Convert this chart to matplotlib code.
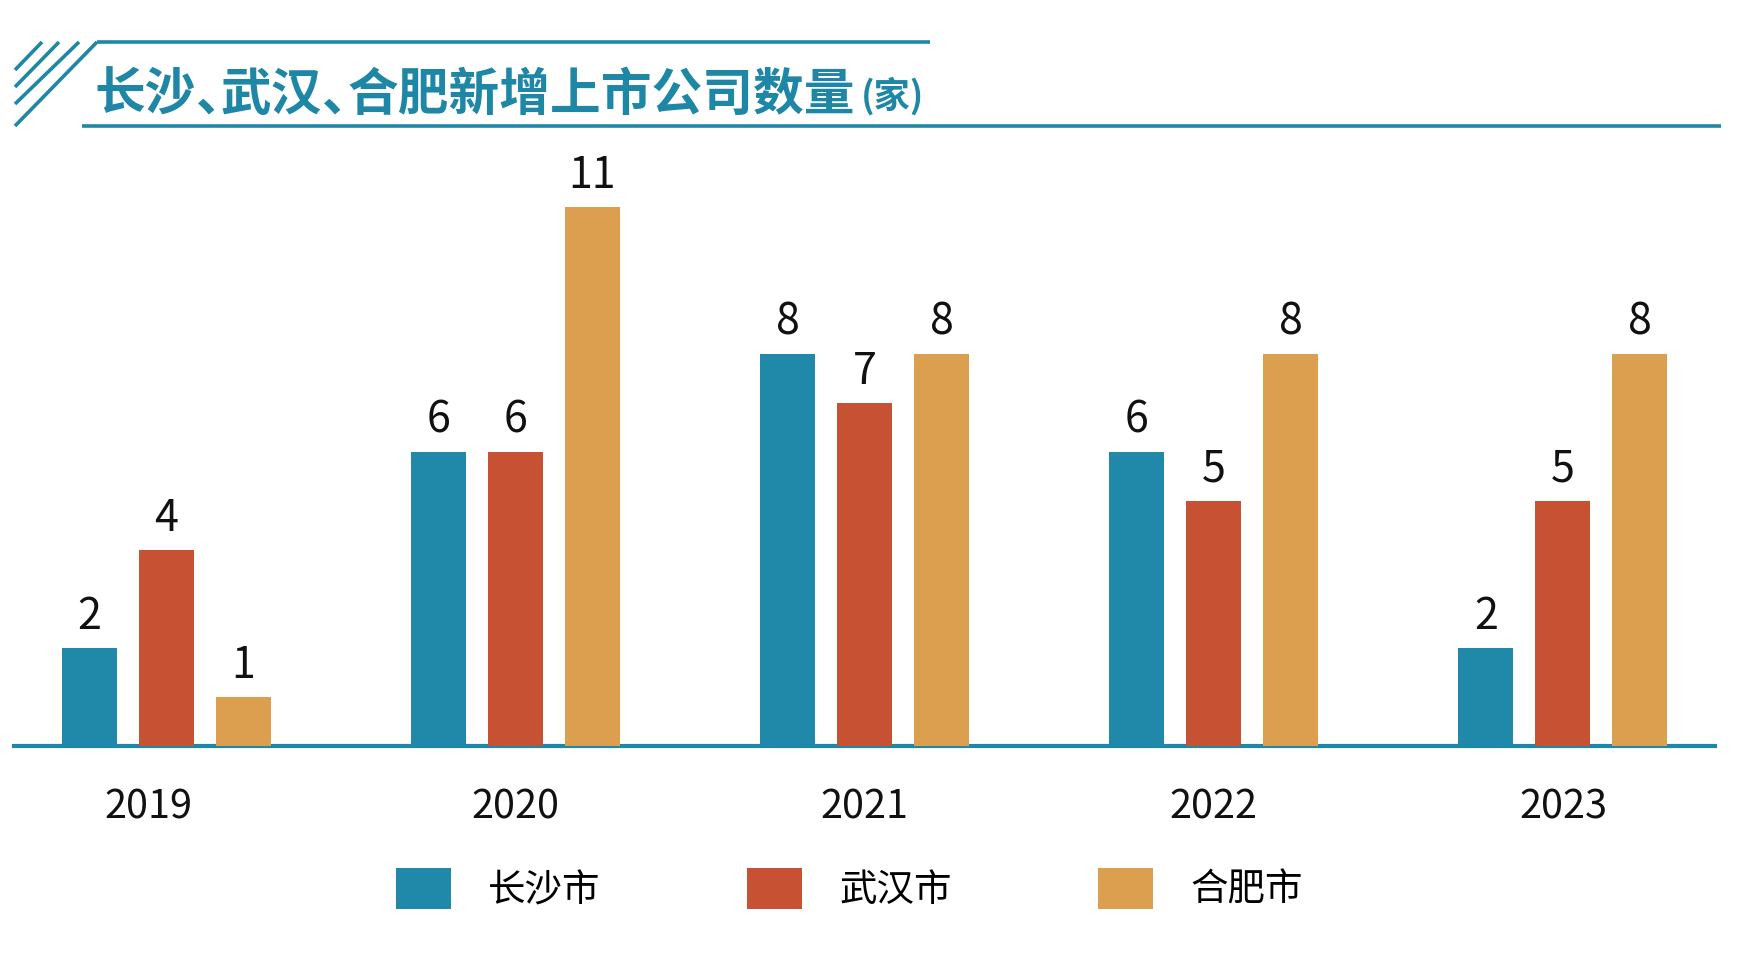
import matplotlib
matplotlib.use("Agg")
import matplotlib.pyplot as plt
from matplotlib.lines import Line2D
from matplotlib.patches import Patch
import numpy as np

plt.rcParams['font.family'] = ['Noto Sans CJK SC', 'DejaVu Sans']

# 数据
years = ["2019", "2020", "2021", "2022", "2023"]
changsha = [2, 6, 8, 6, 2]
wuhan = [4, 6, 7, 5, 5]
hefei = [1, 11, 8, 8, 8]
cities = ["长沙市", "武汉市", "合肥市"]
title_parts = ["长沙", "、", "武汉", "、", "合肥新增上市公司数量"]
unit = "(家)"

TEAL = "#1f87a6"
colors = ["#2088a8", "#c65133", "#dc9f50"]

W, H = 1756, 960
fig = plt.figure(figsize=(W / 100, H / 100), dpi=100)


def px(x, y):
    # pixels (origine en haut à gauche) -> fraction de figure
    return x / W, 1 - y / H


# axe principal : ligne de base à y=746 px, 49 px par unité
ax = fig.add_axes([14 / W, 1 - 746 / H, (1715 - 14) / W, 588 / H])
x = np.arange(len(years))
step = 349.0
bw = 55 / step
off = 77 / step
series = [changsha, wuhan, hefei]
for k, (vals, c) in enumerate(zip(series, colors)):
    pos = x + (k - 1) * off
    ax.bar(pos, vals, width=bw, color=c, zorder=3)
    for xp, v in zip(pos, vals):
        ax.annotate(str(v), (xp, v), xytext=(0, 14), textcoords="offset points",
                    ha="center", va="baseline", fontsize=31, color="#111111")

half = (166 - 14) / step
ax.set_xlim(-half, len(years) - 1 + half)
ax.set_ylim(0, 12)
for s in ["top", "right", "left"]:
    ax.spines[s].set_visible(False)
ax.spines["bottom"].set_color(TEAL)
ax.spines["bottom"].set_linewidth(3.0)
ax.spines["bottom"].set_zorder(2)
ax.set_yticks([])
ax.set_xticks([])

# étiquettes des années (2019 un peu décalée comme dans l'original)
shifts = [-13, 0, 0, 0, 0]
for xi, yr, dx in zip(x, years, shifts):
    ax.annotate(yr, (xi, 0), xycoords=("data", "axes fraction"),
                xytext=(dx, -52.5), textcoords="offset points",
                ha="center", va="baseline", fontsize=28.5, color="#111111")

# légende
handles = [Patch(facecolor=c, edgecolor="none") for c in colors]
fig.legend(handles, cities, loc="center", bbox_to_anchor=(849.5 / W, 1 - 889 / H),
           ncol=3, frameon=False, fontsize=27, handlelength=1.47, handleheight=1.31,
           handletextpad=0.99, columnspacing=3.9, borderpad=0, borderaxespad=0)

# titre : les virgules 、 sont en demi-chasse
renderer = fig.canvas.get_renderer()
fs = 36.5
em = fs * 100 / 72
cur = 94.0
base_y = 110
for part in title_parts:
    t = fig.text(*px(cur, base_y), part, fontsize=fs, fontweight="bold",
                 color=TEAL, ha="left", va="baseline")
    if part == "、":
        cur += em * 0.5
    else:
        cur += t.get_window_extent(renderer).width
fig.text(*px(cur + 6, base_y - 2), unit, fontsize=26, fontweight="bold",
         color=TEAL, ha="left", va="baseline")

deco = [
    ((97, 42), (930, 42)),
    ((82, 126), (1721, 126)),
    ((15, 70), (42, 42)),
    ((15, 87), (59, 42)),
    ((15, 104), (79, 42)),
    ((15, 126), (97, 42)),
]
for (x0, y0), (x1, y1) in deco:
    a = px(x0, y0)
    b = px(x1, y1)
    fig.add_artist(Line2D([a[0], b[0]], [a[1], b[1]], color=TEAL, linewidth=2.6,
                          solid_capstyle="butt", transform=fig.transFigure))

fig.savefig("out.png", dpi=100)
